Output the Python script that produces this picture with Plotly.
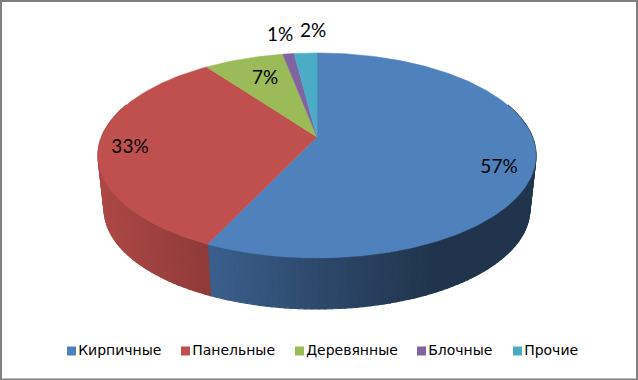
import numpy as np
import plotly.graph_objects as go

categories = ["Кирпичные", "Панельные", "Деревянные", "Блочные", "Прочие"]
values = [57, 33, 7, 1, 2]
colors = ["#4f81bd", "#c0504d", "#9bbb59", "#8064a2", "#4bacc6"]

# layout of the drawing (pixel-based axes)
W, H = 638, 380
CX, CY = 317.0, 137.0          # apex of the top face
A, B, K = 215.4, 99.2, 0.18    # perspective ellipse parameters
BOT_SCALE, BOT_CY = 0.972, 191.4
shade_x = [100, 150, 210, 320, 400, 430, 640]
shade_f = [0.90, 0.82, 0.74, 0.56, 0.46, 0.41, 0.41]
label_x = [499, 130, 265, 280, 313]
label_y = [168.5, 148.5, 79.5, 36, 32.5]
legend_x = [71.5, 185.5, 299.5, 421.5, 517.5]
legend_y = 351


def rim(theta, scale=1.0, cy=CY):
    den = 1 + K * np.cos(theta)
    return (CX + scale * A * np.sin(theta) / den,
            cy - scale * B * np.cos(theta) / den)


def shade(hex_color, f):
    r, g, b = (int(hex_color[i:i + 2], 16) for i in (1, 3, 5))
    return f"rgb({r * f:.0f},{g * f:.0f},{b * f:.0f})"


fractions = np.cumsum([0] + values) / sum(values) * 2 * np.pi
fig = go.Figure()

# side wall, one thin strip per small angular step so it can carry a gradient
for i, col in enumerate(colors):
    lo, hi = max(fractions[i], np.radians(70)), min(fractions[i + 1], np.radians(290))
    if hi <= lo:
        continue
    n = max(1, int(np.degrees(hi - lo) / 1.5))
    edges = np.linspace(lo, hi, n + 1)
    for t0, t1 in zip(edges[:-1], edges[1:]):
        x0, y0 = rim(t0)
        x1, y1 = rim(t1)
        x2, y2 = rim(t1, BOT_SCALE, BOT_CY)
        x3, y3 = rim(t0, BOT_SCALE, BOT_CY)
        c = shade(col, float(np.interp((x0 + x1) / 2, shade_x, shade_f)))
        fig.add_trace(go.Scatter(x=[x0, x1, x2, x3, x0], y=[y0, y1, y2, y3, y0],
                                 mode="lines", fill="toself", fillcolor=c,
                                 line=dict(color=c, width=1.2),
                                 hoverinfo="skip", showlegend=False))

# top face
for i, col in enumerate(colors):
    t = np.linspace(fractions[i], fractions[i + 1], max(3, int(values[i] * 6)))
    x, y = rim(t)
    fig.add_trace(go.Scatter(x=np.r_[CX, x, CX], y=np.r_[CY, y, CY],
                             mode="lines", fill="toself", fillcolor=col,
                             line=dict(color=col, width=0.5),
                             name=categories[i], hoverinfo="name", showlegend=False))

# percentage labels
for i, v in enumerate(values):
    fig.add_trace(go.Scatter(x=[label_x[i]], y=[label_y[i]], mode="text", text=[f"{v}%"],
                             textposition="middle center",
                             textfont=dict(family="Lato", size=19, color="#000000"),
                             hoverinfo="skip", showlegend=False))

# legend row
for i, cat in enumerate(categories):
    fig.add_trace(go.Scatter(x=[legend_x[i]], y=[legend_y], mode="markers+text", text=[cat],
                             textposition="middle right",
                             marker=dict(symbol="square", size=9, color=colors[i]),
                             textfont=dict(family="DejaVu Sans", size=14, color="#000000"),
                             hoverinfo="skip", showlegend=False))

fig.update_layout(
    width=W, height=H, autosize=False,
    margin=dict(l=0, r=0, t=0, b=0),
    paper_bgcolor="white", plot_bgcolor="white", showlegend=False,
    xaxis=dict(range=[0, W], visible=False, fixedrange=True),
    yaxis=dict(range=[H, 0], visible=False, fixedrange=True),
    shapes=[dict(type="rect", xref="paper", yref="paper", x0=1 / W, x1=(W - 1) / W,
                 y0=0.5 / H, y1=(H - 1) / H, line=dict(color="#808080", width=2),
                 fillcolor="rgba(0,0,0,0)", layer="above")],
)
fig.write_html("out.html", config=dict(displayModeBar=False),
               post_script="document.body.style.margin='0';document.body.style.overflow='hidden';")
